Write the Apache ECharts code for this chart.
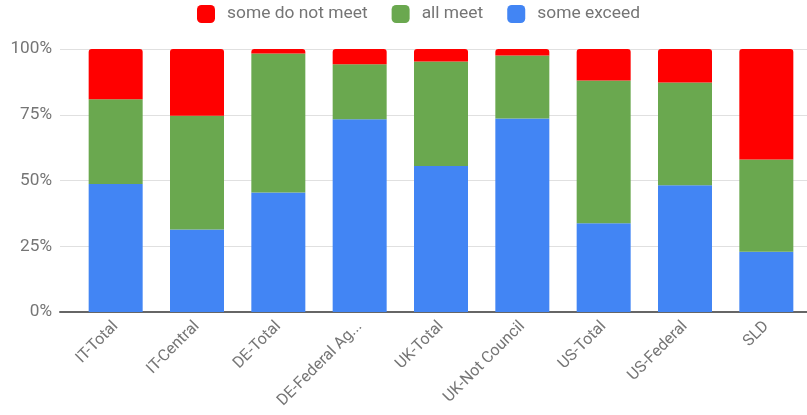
<!DOCTYPE html>
<html>
<head>
<meta charset="utf-8">
<script src="https://cdn.jsdelivr.net/npm/echarts@6/dist/echarts.min.js"></script>
<style>
  html, body { margin: 0; padding: 0; background: #fff; }
  #chart { width: 807px; height: 415px; }
</style>
</head>
<body>
<div id="chart"></div>
<script>
// Share of each group (percent), stacked bottom to top
const categories = ['IT-Total', 'IT-Central', 'DE-Total', 'DE-Federal Agencies', 'UK-Total',
                    'UK-Not Council', 'US-Total', 'US-Federal', 'SLD'];
const someExceed   = [48.7, 31.4, 45.4, 73.3, 55.5, 73.6, 33.7, 48.2, 22.9];
const allMeet      = [32.2, 43.2, 52.9, 20.9, 39.7, 23.9, 54.3, 39.1, 35.1];
const someNotMeet  = [19.1, 25.4,  1.7,  5.8,  4.8,  2.5, 12.0, 12.7, 42.0];
const yTicks = [0, 25, 50, 75, 100];

const textColor = '#757575';
const font = 'Roboto';

const chart = echarts.init(document.getElementById('chart'), null, { renderer: 'canvas' });

function shorten(name) {
  return name.length > 15 ? name.slice(0, 13) + '...' : name;
}

chart.setOption({
  animation: false,
  textStyle: { fontFamily: font },
  legend: {
    top: 0,
    left: 192,
    itemWidth: 18,
    itemHeight: 18,
    itemGap: 24,
    icon: 'roundRect',
    textStyle: { color: textColor, fontSize: 17.4, fontFamily: font, padding: [0, 0, 0, 7] },
    data: ['some do not meet', 'all meet', 'some exceed']
  },
  grid: [
    // bars
    { left: 75, right: -6, top: 49, bottom: 103 },
    // gridlines, y labels and baseline
    { left: 60, right: 0, top: 49, bottom: 103 }
  ],
  xAxis: [
    {
      type: 'category', gridIndex: 0, data: categories,
      axisLine: { show: false }, axisTick: { show: false },
      axisLabel: {
        rotate: 45, color: textColor, fontSize: 16, margin: 12,
        fontFamily: font, formatter: shorten, interval: 0
      }
    },
    {
      type: 'category', gridIndex: 1, data: [''],
      axisLine: { show: true, lineStyle: { color: '#666', width: 2 } },
      axisTick: { show: false }, axisLabel: { show: false }
    }
  ],
  yAxis: [
    {
      type: 'value', gridIndex: 0, min: 0, max: 100, interval: 25,
      axisLabel: { show: false }, splitLine: { show: false },
      axisLine: { show: false }, axisTick: { show: false }
    },
    {
      type: 'value', gridIndex: 1, min: yTicks[0], max: yTicks[yTicks.length - 1], interval: 25,
      axisLabel: { color: textColor, fontSize: 17.2, formatter: '{value}%', margin: 8, fontFamily: font },
      splitLine: { lineStyle: { color: '#e0e0e0', width: 1 } },
      axisLine: { show: false }, axisTick: { show: false }
    }
  ],
  series: [
    {
      name: 'some exceed', type: 'bar', stack: 'total', data: someExceed,
      xAxisIndex: 0, yAxisIndex: 0, barWidth: 54,
      itemStyle: { color: '#4285f4' }
    },
    {
      name: 'all meet', type: 'bar', stack: 'total', data: allMeet,
      xAxisIndex: 0, yAxisIndex: 0, barWidth: 54,
      itemStyle: { color: '#6aa84f' }
    },
    {
      name: 'some do not meet', type: 'bar', stack: 'total', data: someNotMeet,
      xAxisIndex: 0, yAxisIndex: 0, barWidth: 54,
      itemStyle: { color: '#ff0000', borderRadius: [3, 3, 0, 0] }
    }
  ]
});
</script>
</body>
</html>
